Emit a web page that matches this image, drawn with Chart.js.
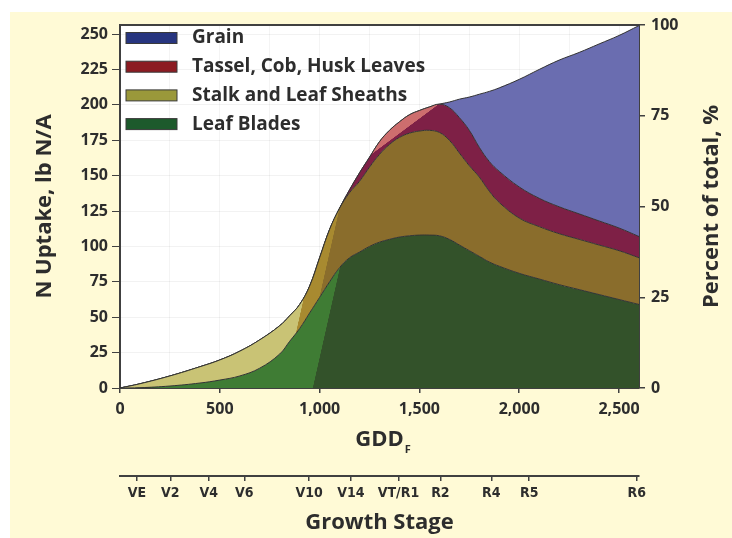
<!DOCTYPE html>
<html><head><meta charset="utf-8">
<script src="https://cdn.jsdelivr.net/npm/chart.js@4"></script>
<style>html,body{margin:0;padding:0;background:#fff}canvas{display:block}</style>
</head><body>
<canvas id="c" width="732" height="538"></canvas>
<script>
// ---- data ----
const gdd           = [0,100,250,400,500,600,700,800,850,900,950,1000,1050,1100,1150,1200,1250,1300,1350,1400,1450,1500,1550,1600,1650,1700,1750,1800,1850,1900,2000,2100,2200,2300,2400,2500,2600];
const leafBlades    = [0,0.2,1.4,3.5,5.6,8.5,14,24,33,42,53,64,75,85,92,96,100,103,105,106.6,107.5,108,108,107.5,105,101,97,93,89,86,81,77,73,69.5,66,62.5,59];
const stalkSheaths  = [0,2.8,7.1,11.5,14.2,17.5,20,20,18,17,19,28,37,42,46,50,56,62,67,70.4,72.5,73.5,74,73,70,65,60,56,50,45,39,37,36,35.5,35,34.5,33];
const tasselCobHusk = [0,0,0,0,0,0,0,0,0,0,0,0,0,0,2,6,7,9,10,11,13,14.5,16.5,20,23,25,25,21,21,22,22,20,19,18,17,16,15];
const grain         = [0,0,0,0,0,0,0,0,0,0,0,0,0,0,0,0,0,0,0,0,0,0,0,0,4,13,23.5,37.5,49.5,59,76,91,103.6,114,125,136,149];
const seriesNames   = ['Leaf Blades','Stalk and Leaf Sheaths','Tassel, Cob, Husk Leaves','Grain'];
const gddTicks      = [0,500,1000,1500,2000,2500];
const uptakeTicks   = [0,25,50,75,100,125,150,175,200,225,250];
const percentTicks  = [0,25,50,75,100];
const stageGdd      = [85,252,445,623,947,1157,1395,1605,1860,2050,2589];
const stageLabels   = ['VE','V2','V4','V6','V10','V14','VT/R1','R2','R4','R5','R6'];

// ---- styles ----
const TXT = '#2d2d2d';
const FONT = "'Open Sans', 'DejaVu Sans', sans-serif";
const legendColors = ['#1d5a2c','#9a983a','#8c1b22','#27357f'];
const pts = arr => gdd.map((g,i)=>({x:g, y:arr[i]}));

function slantGradient(chart, dir, stops) {
  const {ctx, scales} = chart;
  const L = 900;
  const g = ctx.createLinearGradient(0, 0, dir[0]*L, dir[1]*L);
  let prev = null;
  stops.forEach((s, i) => {
    if (i === 0) { g.addColorStop(0, s.color); prev = s.color; return; }
    const px = scales.x.getPixelForValue(s.gdd), py = scales.y.getPixelForValue(s.val);
    let t = (px*dir[0] + py*dir[1]) / L;
    t = Math.min(Math.max(t, 0.001), 0.999);
    g.addColorStop(t - 0.0005, prev);
    g.addColorStop(t, s.color);
    prev = s.color;
  });
  g.addColorStop(1, prev);
  return g;
}
const D1 = [0.976, 0.22];
const D2 = [0.597, 0.802];

const leafFill = c => c.chart.chartArea ? slantGradient(c.chart, D1, [
  {color:'#3f7c34'}, {gdd:965, val:0, color:'#33522a'}]) : '#33522a';
const stalkFill = c => c.chart.chartArea ? slantGradient(c.chart, D1, [
  {color:'#c9c375'}, {gdd:900, val:51, color:'#a88a30'}, {gdd:1075, val:112, color:'#8a6d2c'}]) : '#8a6d2c';
const tasselFill = c => c.chart.chartArea ? slantGradient(c.chart, D2, [
  {color:'#cd6e6e'}, {gdd:1500, val:190, color:'#7e2046'}]) : '#7e2046';

const bgPlugin = {
  id: 'bg',
  beforeDraw(chart) {
    const {ctx, chartArea:a} = chart;
    ctx.save();
    ctx.fillStyle = '#ffffff'; ctx.fillRect(0, 0, chart.width, chart.height);
    ctx.fillStyle = '#fffad6'; ctx.fillRect(10, 12, chart.width - 10, chart.height - 12);
    ctx.fillStyle = '#ffffff'; ctx.fillRect(a.left, a.top, a.right - a.left, a.bottom - a.top);
    ctx.restore();
  }
};

const extrasPlugin = {
  id: 'extras',
  afterDraw(chart) {
    const {ctx, chartArea:a, scales} = chart;
    ctx.save();
    const ds = chart.data.datasets;
    ctx.font = `bold 19px ${FONT}`;
    ctx.textBaseline = 'middle';
    for (let k = 0; k < ds.length; k++) {
      const i = ds.length - 1 - k;
      const y = a.top + 13 + k * 28.7;
      ctx.fillStyle = legendColors[i];
      ctx.fillRect(a.left + 6, y - 5.5, 51, 11);
      ctx.strokeStyle = '#3a3a3a'; ctx.lineWidth = 1;
      ctx.strokeRect(a.left + 6, y - 5.5, 51, 11);
      ctx.fillStyle = TXT;
      ctx.fillText(ds[i].label, a.left + 72, y);
    }
    const sx = scales.x;
    const tf = Chart.helpers.toFont(sx.options.title.font);
    const pad = Chart.helpers.toPadding(sx.options.title.padding);
    const ty = sx.bottom - pad.bottom - tf.lineHeight / 2;
    ctx.font = tf.string;
    const w = ctx.measureText(sx.options.title.text).width;
    const cx = (sx.left + sx.right) / 2;
    ctx.font = `bold 11px ${FONT}`;
    ctx.textAlign = 'left';
    ctx.fillStyle = TXT;
    ctx.fillText('F', cx + w / 2 + 1, ty + 10);
    const r = scales.yPct;
    ctx.translate(712, (r.top + r.bottom) / 2);
    ctx.rotate(-Math.PI / 2);
    ctx.textAlign = 'center';
    ctx.font = `bold 22px ${FONT}`;
    ctx.fillText('Percent of total, %', 0, 0);
    ctx.restore();
  }
};

const frame = {display:true, color:'#404040', width:2};
const tickFont = {family: FONT, size: 16, weight: 'bold'};
const titleFont = {family: FONT, size: 22, weight: 'bold', lineHeight: 1.2};

new Chart(document.getElementById('c'), {
  type: 'line',
  data: {
    datasets: [
      {label: seriesNames[0], data: pts(leafBlades),    backgroundColor: leafFill,   fill: 'origin'},
      {label: seriesNames[1], data: pts(stalkSheaths),  backgroundColor: stalkFill,  fill: '-1'},
      {label: seriesNames[2], data: pts(tasselCobHusk), backgroundColor: tasselFill, fill: '-1'},
      {label: seriesNames[3], data: pts(grain),         backgroundColor: '#6a6db0',  fill: '-1'}
    ].map(d => Object.assign(d, {borderColor:'#333333', borderWidth:1, pointRadius:0, tension:0.4}))
  },
  plugins: [bgPlugin, extrasPlugin],
  options: {
    responsive: false,
    animation: false,
    devicePixelRatio: 1,
    layout: {padding: {top: 25, left: 0, right: 0, bottom: 0}},
    plugins: {legend: {display: false}, tooltip: {enabled: false}},
    scales: {
      x: {
        type: 'linear', position: 'bottom', min: 0, max: 2600,
        afterBuildTicks: s => { s.ticks = gddTicks.map(v => ({value: v})); },
        afterFit: s => { s.height = 88; },
        ticks: {color: TXT, font: tickFont, padding: 7, maxRotation: 0,
                callback: v => v.toLocaleString('en-US')},
        grid: {drawOnChartArea: false, drawTicks: true, tickLength: 5, color: '#404040', lineWidth: 1.5},
        border: frame,
        title: {display: true, text: 'GDD', color: TXT, font: titleFont, padding: {top: 0, bottom: 23}}
      },
      xStage: {
        type: 'linear', position: 'bottom', weight: 1, min: 0, max: 2600,
        afterBuildTicks: s => { s.ticks = stageGdd.map(v => ({value: v})); },
        afterFit: s => { s.height = 62; },
        ticks: {color: TXT, font: {family: "'Liberation Sans Narrow', 'DejaVu Sans Condensed', sans-serif", size: 14, weight: 'bold'},
                padding: 4, maxRotation: 0, autoSkip: false,
                callback: (v, i) => stageLabels[i]},
        grid: {drawOnChartArea: false, drawTicks: true, tickLength: 5, color: '#404040', lineWidth: 1.5},
        border: frame,
        title: {display: true, text: 'Growth Stage', color: TXT, font: titleFont, padding: {top: 0, bottom: 2}}
      },
      xTop: {
        type: 'linear', position: 'top', min: 0, max: 2600,
        ticks: {display: false, stepSize: 250, includeBounds: false},
        afterFit: s => { s.height = 0; },
        grid: {drawOnChartArea: true, drawTicks: false, color: 'rgba(0,0,0,0.045)'},
        border: frame
      },
      y: {
        type: 'linear', position: 'left', stacked: true, min: 0, max: 256.4,
        afterBuildTicks: s => { s.ticks = uptakeTicks.map(v => ({value: v})); },
        afterFit: s => { s.width = 120; },
        ticks: {color: TXT, font: tickFont, padding: 4},
        grid: {color: 'rgba(0,0,0,0.05)', tickColor: '#404040', tickLength: 8, drawTicks: true},
        border: frame,
        title: {display: true, text: 'N Uptake, lb N/A', color: TXT, font: titleFont, padding: {top: 32, bottom: 0}}
      },
      yPct: {
        type: 'linear', position: 'right', min: 0, max: 100,
        afterBuildTicks: s => { s.ticks = percentTicks.map(v => ({value: v})); },
        afterFit: s => { s.width = 93; },
        ticks: {color: TXT, font: tickFont, padding: 6},
        grid: {drawOnChartArea: false, drawTicks: true, tickLength: 6, color: '#404040', lineWidth: 1.5},
        border: frame
      }
    }
  }
});
</script>
</body></html>
